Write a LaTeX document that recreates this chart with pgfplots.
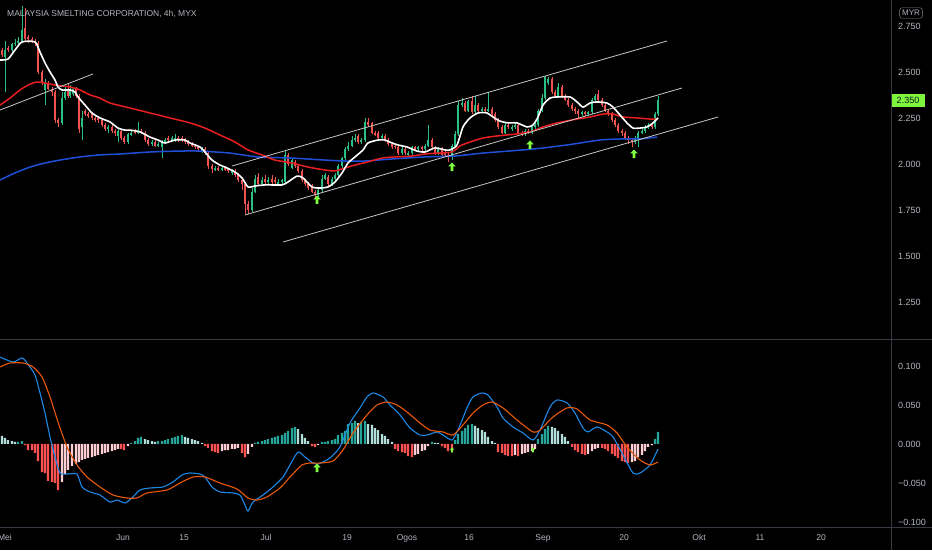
\documentclass[border=0pt]{standalone}
\usepackage{pgfplots}
\usepackage{pgfplotstable}
\usepackage{fontspec}
\setmainfont{Liberation Sans}
\pgfplotsset{compat=1.18}
\definecolor{upc}{HTML}{2BBF86}
\definecolor{dnc}{HTML}{EF5350}
\definecolor{maR}{HTML}{E91E1E}
\definecolor{maB}{HTML}{1E4FD8}
\definecolor{trendc}{HTML}{C8C8C8}
\definecolor{arrowc}{HTML}{7FFF40}
\definecolor{lblc}{HTML}{7CF53C}
\definecolor{darkc}{HTML}{131722}
\definecolor{textc}{HTML}{B2B5BE}
\definecolor{sepc}{HTML}{363A45}
\definecolor{macdB}{HTML}{1E88E5}
\definecolor{macdO}{HTML}{E8590C}
\definecolor{histT}{HTML}{26A69A}
\definecolor{histL}{HTML}{B2DFDB}
\definecolor{histR}{HTML}{FF5252}
\definecolor{histP}{HTML}{FFCDD2}
\newcommand{\tl}{\fontsize{8.5}{10}\selectfont}
\newcommand{\yl}{\fontsize{9}{10}\selectfont}
\pgfdeclareplotmark{uparrow}{%
  \pgfpathmoveto{\pgfqpoint{0pt}{4.5pt}}%
  \pgfpathlineto{\pgfqpoint{3.8pt}{0.6pt}}%
  \pgfpathlineto{\pgfqpoint{1.3pt}{0.6pt}}%
  \pgfpathlineto{\pgfqpoint{1.3pt}{-4pt}}%
  \pgfpathlineto{\pgfqpoint{-1.3pt}{-4pt}}%
  \pgfpathlineto{\pgfqpoint{-1.3pt}{0.6pt}}%
  \pgfpathlineto{\pgfqpoint{-3.8pt}{0.6pt}}%
  \pgfpathclose
  \pgfusepathqfill}

\pgfplotstableread{
x o h l c
2 2.62 2.63 2.58 2.59
5 2.58 2.67 2.39 2.62
8 2.63 2.64 2.61 2.62
12 2.62 2.66 2.61 2.65
15 2.65 2.68 2.64 2.66
18 2.66 2.69 2.65 2.67
22 2.67 2.86 2.66 2.73
25 2.74 2.85 2.67 2.68
28 2.69 2.70 2.66 2.68
32 2.68 2.69 2.66 2.67
35 2.67 2.68 2.64 2.66
38 2.66 2.67 2.49 2.50
42 2.50 2.51 2.43 2.44
45 2.40 2.46 2.32 2.44
48 2.44 2.45 2.40 2.41
52 2.41 2.42 2.37 2.39
55 2.39 2.40 2.22 2.24
58 2.24 2.25 2.20 2.22
62 2.22 2.39 2.21 2.36
65 2.36 2.42 2.35 2.39
68 2.41 2.44 2.36 2.37
70 2.37 2.43 2.36 2.41
73 2.38 2.42 2.37 2.41
76 2.41 2.42 2.36 2.37
79 2.37 2.38 2.17 2.19
82 2.20 2.29 2.13 2.25
85 2.29 2.30 2.26 2.27
88 2.27 2.28 2.25 2.26
92 2.27 2.28 2.24 2.25
95 2.25 2.26 2.23 2.24
98 2.25 2.26 2.22 2.24
102 2.24 2.25 2.20 2.21
105 2.21 2.22 2.18 2.19
108 2.19 2.21 2.17 2.20
112 2.20 2.21 2.17 2.18
115 2.18 2.19 2.15 2.17
118 2.15 2.19 2.12 2.18
121 2.18 2.19 2.13 2.14
124 2.14 2.15 2.11 2.12
128 2.12 2.17 2.11 2.16
131 2.16 2.18 2.15 2.17
135 2.18 2.19 2.16 2.17
138 2.17 2.23 2.16 2.18
141 2.18 2.19 2.16 2.17
145 2.17 2.18 2.12 2.13
148 2.13 2.14 2.10 2.11
152 2.11 2.13 2.10 2.12
155 2.12 2.13 2.09 2.10
158 2.10 2.12 2.09 2.11
162 2.09 2.13 2.03 2.12
165 2.12 2.14 2.11 2.13
168 2.14 2.15 2.12 2.13
172 2.13 2.15 2.12 2.14
175 2.13 2.16 2.12 2.14
178 2.14 2.15 2.12 2.13
182 2.14 2.15 2.12 2.13
185 2.13 2.14 2.11 2.12
188 2.12 2.13 2.10 2.11
192 2.11 2.12 2.09 2.10
195 2.10 2.11 2.08 2.09
198 2.09 2.10 2.07 2.08
202 2.07 2.09 2.06 2.08
205 2.08 2.09 2.05 2.06
208 2.06 2.07 1.97 1.99
212 1.99 2.00 1.95 1.97
215 1.97 1.99 1.96 1.98
218 1.98 1.99 1.96 1.97
222 1.97 1.99 1.96 1.98
225 1.98 1.99 1.96 1.97
228 1.97 1.98 1.95 1.96
232 1.95 1.97 1.94 1.96
235 1.96 1.97 1.93 1.94
238 1.94 1.95 1.90 1.91
242 1.91 1.93 1.86 1.89
245 1.89 1.90 1.73 1.78
248 1.78 1.80 1.73 1.75
252 1.75 1.87 1.74 1.85
255 1.85 1.94 1.84 1.92
258 1.93 1.95 1.88 1.89
262 1.89 1.93 1.88 1.91
265 1.92 1.94 1.89 1.90
268 1.90 1.93 1.89 1.91
272 1.92 1.94 1.89 1.90
275 1.91 1.93 1.89 1.90
278 1.89 1.92 1.88 1.90
282 1.90 1.92 1.88 1.91
285 1.90 2.07 1.89 2.05
288 2.05 2.06 1.99 2.00
292 1.98 2.03 1.97 2.02
295 2.01 2.02 1.98 1.99
298 1.99 2.00 1.95 1.96
302 1.96 1.97 1.90 1.91
305 1.91 1.92 1.88 1.89
308 1.89 1.90 1.86 1.87
312 1.88 1.89 1.84 1.85
315 1.85 1.86 1.81 1.83
318 1.83 1.87 1.82 1.86
322 1.86 1.94 1.85 1.92
325 1.92 1.95 1.91 1.94
328 1.93 1.94 1.88 1.89
332 1.89 1.93 1.88 1.92
335 1.92 1.95 1.91 1.94
338 1.94 2.00 1.93 1.99
342 1.99 2.04 1.98 2.03
345 2.03 2.09 2.02 2.08
348 2.08 2.12 2.07 2.10
352 2.10 2.15 2.09 2.13
355 2.13 2.16 2.12 2.14
358 2.15 2.16 2.11 2.12
361 2.12 2.14 2.11 2.13
365 2.13 2.25 2.12 2.23
368 2.23 2.25 2.20 2.21
372 2.22 2.23 2.16 2.17
375 2.17 2.18 2.15 2.16
378 2.17 2.18 2.13 2.14
382 2.14 2.16 2.13 2.15
385 2.15 2.16 2.12 2.13
388 2.13 2.14 2.10 2.11
392 2.11 2.12 2.08 2.09
395 2.10 2.11 2.08 2.09
398 2.09 2.10 2.05 2.06
402 2.06 2.09 2.05 2.08
405 2.08 2.09 2.05 2.06
408 2.05 2.07 2.04 2.06
412 2.06 2.10 2.05 2.09
415 2.09 2.10 2.07 2.08
418 2.08 2.10 2.07 2.09
422 2.09 2.10 2.07 2.08
425 2.08 2.11 2.07 2.10
428 2.10 2.21 2.09 2.13
432 2.13 2.14 2.08 2.09
435 2.09 2.10 2.05 2.06
438 2.06 2.09 2.05 2.08
442 2.08 2.09 2.04 2.05
445 2.06 2.07 2.04 2.05
448 2.05 2.06 2.01 2.04
452 2.04 2.11 2.02 2.10
455 2.10 2.18 2.09 2.16
458 2.16 2.34 2.15 2.32
462 2.32 2.36 2.31 2.33
465 2.33 2.34 2.28 2.29
468 2.29 2.35 2.28 2.34
472 2.34 2.37 2.27 2.28
475 2.28 2.37 2.27 2.32
478 2.32 2.33 2.28 2.29
482 2.29 2.31 2.28 2.30
485 2.30 2.31 2.28 2.29
488 2.29 2.39 2.28 2.30
492 2.30 2.31 2.26 2.27
495 2.27 2.28 2.23 2.24
498 2.24 2.25 2.19 2.20
502 2.20 2.21 2.16 2.17
505 2.17 2.22 2.16 2.21
508 2.21 2.22 2.19 2.20
512 2.19 2.21 2.18 2.20
515 2.20 2.22 2.19 2.21
518 2.21 2.22 2.16 2.17
522 2.17 2.18 2.15 2.16
525 2.16 2.19 2.15 2.18
528 2.18 2.19 2.16 2.17
532 2.17 2.21 2.16 2.20
535 2.20 2.22 2.19 2.21
538 2.21 2.30 2.20 2.29
542 2.29 2.38 2.28 2.36
545 2.36 2.48 2.35 2.47
548 2.44 2.47 2.43 2.46
552 2.46 2.47 2.38 2.39
555 2.39 2.40 2.36 2.37
558 2.37 2.44 2.36 2.42
562 2.42 2.43 2.36 2.37
565 2.37 2.38 2.34 2.35
568 2.35 2.36 2.31 2.32
572 2.32 2.33 2.29 2.30
575 2.30 2.31 2.27 2.29
578 2.29 2.30 2.25 2.27
582 2.27 2.29 2.26 2.28
585 2.28 2.29 2.26 2.27
588 2.27 2.29 2.26 2.28
592 2.28 2.36 2.27 2.35
595 2.35 2.38 2.34 2.37
598 2.38 2.40 2.34 2.35
602 2.35 2.36 2.31 2.32
605 2.32 2.33 2.28 2.29
608 2.29 2.30 2.26 2.27
612 2.27 2.28 2.23 2.24
615 2.24 2.25 2.20 2.21
618 2.21 2.22 2.17 2.18
622 2.18 2.19 2.15 2.17
625 2.17 2.18 2.13 2.14
628 2.14 2.15 2.11 2.13
632 2.13 2.14 2.09 2.12
635 2.12 2.15 2.11 2.14
638 2.14 2.18 2.09 2.17
642 2.17 2.19 2.16 2.18
645 2.18 2.21 2.17 2.20
648 2.20 2.22 2.19 2.21
652 2.21 2.22 2.19 2.20
655 2.20 2.28 2.19 2.27
658 2.27 2.37 2.26 2.35
}\candles

\pgfplotstableread{
x v k
2 0.0103 1
5 0.0077 1
8 0.0051 1
12 0.0038 1
15 0.0026 1
18 0.0026 0
22 0.0038 0
25 -0.0013 2
28 -0.0077 2
32 -0.0077 2
35 -0.0115 2
38 -0.0218 2
42 -0.0359 2
45 -0.0372 2
48 -0.0474 2
52 -0.0487 2
55 -0.0500 2
58 -0.0590 2
62 -0.0487 3
65 -0.0385 3
68 -0.0333 3
72 -0.0282 3
76 -0.0256 3
79 -0.0231 3
82 -0.0205 3
85 -0.0192 3
88 -0.0179 3
92 -0.0167 3
95 -0.0154 3
98 -0.0141 3
102 -0.0128 3
105 -0.0115 3
108 -0.0103 3
112 -0.0090 3
115 -0.0077 3
118 -0.0064 3
121 -0.0064 2
124 -0.0077 2
128 -0.0026 3
131 0.0013 0
135 0.0038 0
138 0.0077 0
141 0.0090 0
145 0.0064 1
148 0.0051 1
152 0.0038 1
155 0.0026 1
158 0.0038 0
162 0.0038 0
165 0.0051 0
168 0.0064 0
172 0.0077 0
175 0.0090 0
178 0.0103 0
182 0.0115 0
185 0.0090 1
188 0.0077 1
192 0.0064 1
195 0.0051 1
198 0.0038 1
202 0.0013 1
205 -0.0026 2
208 -0.0051 2
212 -0.0090 2
215 -0.0103 2
218 -0.0115 2
222 -0.0090 3
225 -0.0077 3
228 -0.0077 3
232 -0.0064 3
235 -0.0064 3
238 -0.0051 3
242 -0.0115 2
245 -0.0167 2
248 -0.0128 3
252 -0.0038 3
255 0.0013 0
258 0.0026 0
262 0.0038 0
265 0.0051 0
268 0.0064 0
272 0.0077 0
275 0.0090 0
278 0.0103 0
282 0.0115 0
285 0.0141 0
288 0.0167 0
292 0.0205 0
295 0.0218 0
298 0.0192 1
302 0.0128 1
305 0.0077 1
308 0.0038 1
312 -0.0026 2
315 -0.0038 2
318 -0.0013 3
322 0.0026 0
325 0.0026 0
328 0.0038 0
332 0.0051 0
335 0.0064 0
338 0.0115 0
342 0.0141 0
345 0.0167 0
348 0.0256 0
352 0.0269 0
355 0.0295 0
358 0.0269 1
361 0.0282 0
365 0.0295 0
368 0.0256 1
372 0.0244 1
375 0.0205 1
378 0.0179 1
382 0.0128 1
385 0.0103 1
388 0.0064 1
392 0.0026 1
395 -0.0064 2
398 -0.0090 2
402 -0.0103 2
405 -0.0115 2
408 -0.0154 2
412 -0.0167 2
415 -0.0141 3
418 -0.0128 3
422 -0.0090 3
425 -0.0077 3
428 -0.0026 3
432 0.0026 0
435 0.0013 1
438 0.0013 1
442 -0.0026 2
445 -0.0051 2
448 -0.0090 2
452 -0.0103 2
455 0.0051 0
458 0.0128 0
462 0.0167 0
465 0.0205 0
468 0.0244 0
472 0.0256 0
475 0.0231 1
478 0.0205 1
482 0.0179 1
485 0.0154 1
488 0.0090 1
492 0.0038 1
495 0.0013 1
498 -0.0103 2
502 -0.0115 2
505 -0.0141 2
508 -0.0154 2
512 -0.0154 2
515 -0.0141 3
518 -0.0154 2
522 -0.0128 3
525 -0.0115 3
528 -0.0103 3
532 -0.0090 3
535 -0.0064 3
538 0.0064 0
542 0.0128 0
545 0.0192 0
548 0.0231 0
552 0.0218 1
555 0.0205 1
558 0.0167 1
562 0.0128 1
565 0.0090 1
568 0.0038 1
572 -0.0038 2
575 -0.0077 2
578 -0.0103 2
582 -0.0128 2
585 -0.0141 2
588 -0.0128 3
592 -0.0090 3
595 -0.0064 3
598 -0.0051 3
602 -0.0051 2
605 -0.0064 2
608 -0.0090 2
612 -0.0128 2
615 -0.0154 2
618 -0.0179 2
622 -0.0218 2
625 -0.0231 2
628 -0.0244 2
632 -0.0231 3
635 -0.0218 3
638 -0.0167 3
642 -0.0141 3
645 -0.0090 3
648 -0.0038 3
652 -0.0013 3
655 0.0064 0
658 0.0154 0
}\hist

\begin{document}
\begin{tikzpicture}
\useasboundingbox (0,0) rectangle (932pt,550pt);
\fill[black] (0,0) rectangle (932pt,550pt);
\clip (0,0) rectangle (932pt,550pt);

% ---------------- price panel ----------------
\begin{axis}[
  at={(0pt,211pt)}, anchor=south west, scale only axis,
  width=891pt, height=339pt,
  xmin=0, xmax=891, ymin=1.0485, ymax=2.891,
  axis line style={draw=none}, tick style={draw=none}, major tick length=0pt,
  xtick=\empty,
  ytick={1.25,1.5,1.75,2,2.25,2.5,2.75},
  yticklabels={1.250,1.500,1.750,2.000,2.250,2.500,2.750},
  yticklabel pos=right,
  yticklabel style={anchor=west, inner sep=0pt, xshift=7pt, font=\yl, text=textc},
  /pgf/number format/assume math mode=true,
]
% wicks and bodies, up candles
\addplot[draw=none, mark=none, forget plot, error bars/.cd, y dir=both, y explicit, error mark=none,
  error bar style={draw=upc, line width=0.8pt}]
  table[x expr={\thisrow{c}>\thisrow{o} ? \thisrow{x} : -100},
        y expr={(\thisrow{h}+\thisrow{l})/2}, y error expr={(\thisrow{h}-\thisrow{l})/2}] {\candles};
\addplot[draw=none, mark=none, forget plot, error bars/.cd, y dir=both, y explicit, error mark=none,
  error bar style={draw=upc, line width=2.2pt}]
  table[x expr={\thisrow{c}>\thisrow{o} ? \thisrow{x} : -100},
        y expr={(\thisrow{o}+\thisrow{c})/2}, y error expr={abs(\thisrow{c}-\thisrow{o})/2}] {\candles};
% down candles
\addplot[draw=none, mark=none, forget plot, error bars/.cd, y dir=both, y explicit, error mark=none,
  error bar style={draw=dnc, line width=0.8pt}]
  table[x expr={\thisrow{c}<\thisrow{o} ? \thisrow{x} : -100},
        y expr={(\thisrow{h}+\thisrow{l})/2}, y error expr={(\thisrow{h}-\thisrow{l})/2}] {\candles};
\addplot[draw=none, mark=none, forget plot, error bars/.cd, y dir=both, y explicit, error mark=none,
  error bar style={draw=dnc, line width=2.2pt}]
  table[x expr={\thisrow{c}<\thisrow{o} ? \thisrow{x} : -100},
        y expr={(\thisrow{o}+\thisrow{c})/2}, y error expr={abs(\thisrow{c}-\thisrow{o})/2}] {\candles};

% blue MA
\addplot[maB, line width=1.5pt, smooth, tension=0.4, mark=none] coordinates {
(0,1.913) (15,1.951) (30,1.983) (45,2.005) (60,2.021) (80,2.038) (100,2.049) (120,2.054)
(150,2.065) (180,2.070) (200,2.070) (215,2.065) (230,2.059) (258,2.038) (292,2.032) (325,2.021)
(345,2.016) (365,2.016) (392,2.027) (425,2.038) (455,2.043) (483,2.059) (533,2.081) (567,2.103)
(600,2.130) (623,2.136) (640,2.136) (657,2.146)};
% red MA
\addplot[maR, line width=1.5pt, smooth, tension=0.4, mark=none] coordinates {
(0,2.320) (10,2.358) (20,2.402) (30,2.434) (37,2.445) (45,2.440) (55,2.429) (70,2.418) (80,2.402)
(90,2.375) (100,2.358) (110,2.331) (130,2.304) (150,2.277) (170,2.250) (190,2.223) (205,2.195)
(220,2.157) (235,2.119) (248,2.076) (262,2.049) (275,2.021) (292,2.005) (308,1.983) (325,1.967)
(335,1.962) (345,1.978) (355,1.994) (368,2.011) (382,2.032) (395,2.038) (412,2.043) (425,2.054)
(438,2.059) (452,2.065) (460,2.098) (470,2.119) (483,2.141) (497,2.152) (517,2.163) (530,2.174)
(543,2.201) (557,2.223) (577,2.244) (590,2.255) (603,2.271) (613,2.271) (623,2.255) (637,2.250)
(650,2.244) (657,2.244)};
% white MA
\addplot[white, line width=1.6pt, smooth, tension=0.4, mark=none] coordinates {
(0,2.565) (8,2.570) (15,2.619) (22,2.663) (35,2.663) (40,2.608) (45,2.549) (50,2.500) (55,2.456)
(58,2.418) (62,2.402) (70,2.402) (75,2.391) (78,2.364) (85,2.320) (92,2.277) (100,2.250) (110,2.228)
(118,2.195) (125,2.184) (130,2.184) (140,2.174) (150,2.146) (158,2.130) (165,2.114) (175,2.130)
(185,2.130) (190,2.114) (200,2.092) (205,2.065) (212,2.021) (220,1.994) (225,1.983) (235,1.956)
(242,1.924) (248,1.875) (255,1.880) (265,1.886) (282,1.886) (288,1.902) (297,1.934) (303,1.924)
(312,1.875) (320,1.869) (328,1.875) (335,1.902) (342,1.951) (348,2.005) (355,2.038) (363,2.076)
(368,2.114) (378,2.130) (385,2.130) (392,2.114) (398,2.103) (407,2.092) (417,2.070) (425,2.065)
(435,2.087) (445,2.076) (450,2.076) (457,2.103) (463,2.201) (470,2.250) (478,2.277) (487,2.277)
(493,2.255) (500,2.233) (508,2.223) (517,2.223) (527,2.201) (533,2.212) (538,2.255) (543,2.320)
(550,2.358) (557,2.364) (570,2.364) (577,2.337) (583,2.309) (590,2.331) (597,2.337) (607,2.331)
(613,2.309) (620,2.266) (627,2.223) (633,2.195) (640,2.195) (647,2.201) (653,2.223) (658,2.250)};
% trend lines
\addplot[trendc, line width=0.8pt] coordinates {(0,2.293) (93,2.489)};
\addplot[trendc, line width=0.8pt] coordinates {(232,1.989) (667,2.668)};
\addplot[trendc, line width=0.8pt] coordinates {(245,1.7225) (682,2.4127)};
\addplot[trendc, line width=0.8pt] coordinates {(283,1.5757) (718,2.2551)};
% signal arrows
\addplot[only marks, mark=uparrow, color=arrowc] coordinates {(317,1.804) (452,1.983) (530,2.103) (634,2.054)};
\end{axis}

% ---------------- MACD panel ----------------
\begin{axis}[
  at={(0pt,23pt)}, anchor=south west, scale only axis,
  width=891pt, height=187pt,
  xmin=0, xmax=891, ymin=-0.1064, ymax=0.1333,
  axis line style={draw=none}, tick style={draw=none}, major tick length=0pt,
  xtick={5,123,184,266,347,407,469,543,624,699,760,821},
  xticklabels={Mei,Jun,15,Jul,19,Ogos,16,Sep,20,Okt,11,20},
  xticklabel style={anchor=north, inner sep=0pt, yshift=-7pt, font=\tl, text=textc},
  ytick={-0.1,-0.05,0,0.05,0.1},
  yticklabels={−0.100,−0.050,0.000,0.050,0.100},
  yticklabel pos=right,
  yticklabel style={anchor=west, inner sep=0pt, xshift=7pt, font=\yl, text=textc},
  /pgf/number format/assume math mode=true,
]
\addplot[ybar, bar width=2.2pt, bar shift=0pt, fill=histT, draw=none, forget plot]
  table[x expr={\thisrow{k}==0 ? \thisrow{x} : -100}, y=v] {\hist};
\addplot[ybar, bar width=2.2pt, bar shift=0pt, fill=histL, draw=none, forget plot]
  table[x expr={\thisrow{k}==1 ? \thisrow{x} : -100}, y=v] {\hist};
\addplot[ybar, bar width=2.2pt, bar shift=0pt, fill=histR, draw=none, forget plot]
  table[x expr={\thisrow{k}==2 ? \thisrow{x} : -100}, y=v] {\hist};
\addplot[ybar, bar width=2.2pt, bar shift=0pt, fill=histP, draw=none, forget plot]
  table[x expr={\thisrow{k}==3 ? \thisrow{x} : -100}, y=v] {\hist};
% MACD line
\addplot[macdB, line width=1.1pt, smooth, tension=0.4, mark=none] coordinates {
(0,0.1115) (13,0.1051) (22,0.1103) (27,0.1038) (35,0.0885) (40,0.0654) (45,0.0397) (50,0.0090)
(55,-0.0167) (60,-0.0372) (67,-0.0385) (77,-0.0385) (82,-0.0551) (90,-0.0615) (100,-0.0654)
(110,-0.0744) (117,-0.0718) (125,-0.0756) (132,-0.0692) (140,-0.0590) (150,-0.0564) (163,-0.0551)
(173,-0.0487) (182,-0.0397) (190,-0.0372) (200,-0.0385) (205,-0.0423) (212,-0.0551) (220,-0.0615)
(233,-0.0628) (240,-0.0654) (245,-0.0782) (248,-0.0859) (253,-0.0744) (263,-0.0654) (273,-0.0551)
(283,-0.0423) (290,-0.0269) (298,-0.0103) (305,-0.0167) (313,-0.0244) (318,-0.0256) (325,-0.0218)
(330,-0.0179) (340,-0.0038) (350,0.0269) (360,0.0462) (367,0.0603) (373,0.0654) (383,0.0603)
(390,0.0500) (400,0.0372) (410,0.0205) (420,0.0115) (427,0.0115) (437,0.0154) (443,0.0115)
(452,0.0051) (458,0.0179) (467,0.0462) (473,0.0603) (482,0.0654) (488,0.0628) (497,0.0474)
(503,0.0333) (513,0.0218) (523,0.0141) (533,0.0051) (540,0.0179) (550,0.0474) (557,0.0564)
(567,0.0526) (575,0.0397) (583,0.0205) (588,0.0154) (597,0.0218) (607,0.0154) (613,0.0090)
(622,-0.0115) (633,-0.0372) (640,-0.0372) (650,-0.0269) (658,-0.0064)};
% signal line
\addplot[macdO, line width=1.1pt, smooth, tension=0.4, mark=none] coordinates {
(0,0.0987) (10,0.1038) (23,0.1038) (33,0.0987) (42,0.0859) (50,0.0603) (58,0.0282) (67,-0.0038)
(77,-0.0269) (87,-0.0423) (100,-0.0551) (113,-0.0654) (127,-0.0692) (137,-0.0692) (147,-0.0628)
(167,-0.0590) (180,-0.0500) (193,-0.0423) (205,-0.0423) (220,-0.0500) (237,-0.0577) (248,-0.0692)
(257,-0.0718) (267,-0.0679) (280,-0.0564) (290,-0.0423) (302,-0.0269) (310,-0.0244) (320,-0.0244)
(333,-0.0218) (343,-0.0077) (353,0.0141) (367,0.0372) (377,0.0500) (387,0.0538) (397,0.0500)
(407,0.0410) (420,0.0269) (430,0.0179) (443,0.0154) (453,0.0115) (463,0.0244) (473,0.0397)
(483,0.0500) (492,0.0538) (503,0.0462) (517,0.0308) (533,0.0154) (540,0.0179) (553,0.0346)
(567,0.0462) (577,0.0449) (590,0.0308) (607,0.0244) (617,0.0141) (627,-0.0038) (640,-0.0205)
(650,-0.0269) (658,-0.0231)};
\addplot[only marks, mark=uparrow, color=arrowc] coordinates {(317,-0.0308)};
\addplot[only marks, mark=uparrow, color=arrowc, mark options={scale=0.6}] coordinates {(452,-0.0077) (533,-0.0077)};
\end{axis}

% ---------------- frame and labels ----------------
\draw[sepc, line width=0.8pt] (0,210.5pt) -- (932pt,210.5pt);
\draw[sepc, line width=0.8pt] (0,23pt) -- (932pt,23pt);
\draw[sepc, line width=0.8pt] (891pt,0) -- (891pt,550pt);
\node[anchor=west, inner sep=0pt, text=textc, font=\tl] at (7pt,536pt) {MALAYSIA SMELTING CORPORATION, 4h, MYX};
\node[draw=sepc!60!white, rounded corners=2.5pt, inner xsep=2.5pt, inner ysep=2.5pt, text=textc, font=\fontsize{8}{9}\selectfont] at (911pt,537pt) {MYR};
\fill[lblc] (891.5pt,442.7pt) rectangle (924.5pt,455.7pt);
\node[text=darkc, font=\yl, inner sep=0pt] at (908pt,449.2pt) {2.350};
\end{tikzpicture}
\end{document}
